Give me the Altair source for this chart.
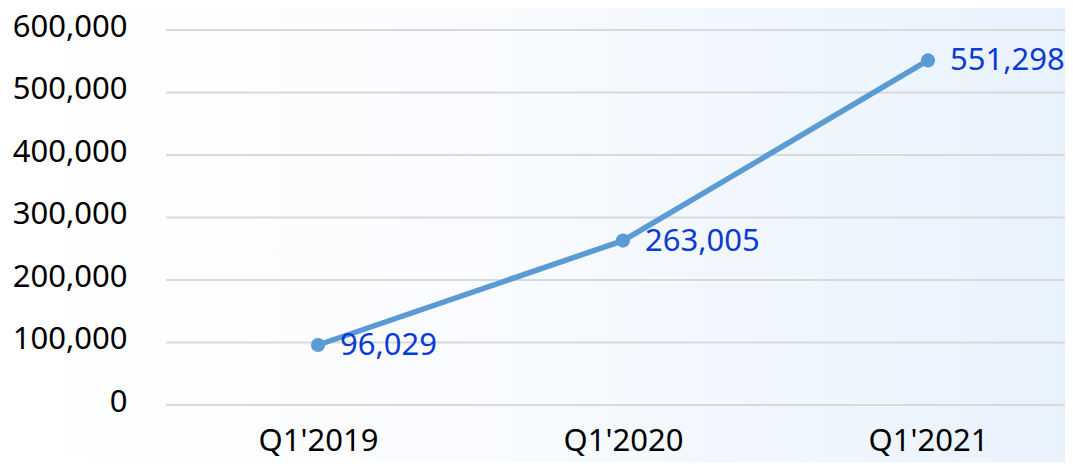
import altair as alt
import pandas as pd

quarters = ["Q1'2019", "Q1'2020", "Q1'2021"]
values = [96029, 263005, 551298]
y_ticks = [0, 100000, 200000, 300000, 400000, 500000, 600000]

df = pd.DataFrame({"quarter": quarters, "value": values})
grid_df = pd.DataFrame({"value": y_ticks})

FONT = "Noto Sans"
W, H = 899, 375

yaxis = alt.Axis(title=None, domain=False, ticks=False, values=y_ticks,
                 format=",.0f", labelFontSize=31, labelFont=FONT,
                 labelColor="#000000", labelPadding=39, labelOffset=-3,
                 grid=False, zindex=1)
yscale = alt.Scale(domain=[0, 600000], nice=False)

bg = alt.Chart(pd.DataFrame({"a": [0]})).mark_rect(
    fill=alt.Gradient(
        gradient="linear",
        stops=[alt.GradientStop(color="#ffffff", offset=0),
               alt.GradientStop(color="#f9fbfe", offset=0.45),
               alt.GradientStop(color="#e8f2fd", offset=1)],
        x1=0, x2=1, y1=0, y2=0,
    )
).encode(
    x=alt.value(-170), x2=alt.value(W + 10),
    y=alt.value(-40), y2=alt.value(H + 80),
)

grid_layer = alt.Chart(grid_df).mark_rule(color="#d9d9d9", strokeWidth=2).encode(
    y=alt.Y("value:Q", scale=yscale, axis=yaxis),
    x=alt.value(0), x2=alt.value(W + 10),
)

xenc = alt.X("quarter:N", sort=quarters,
             scale=alt.Scale(type="point", range=[152, 762], padding=0),
             axis=alt.Axis(title=None, domain=False, ticks=False, labelAngle=0,
                           labelFontSize=31, labelFont=FONT, labelColor="#000000",
                           labelPadding=21, grid=False, zindex=1))

base = alt.Chart(df).encode(x=xenc, y=alt.Y("value:Q", scale=yscale, axis=yaxis))

line = base.mark_line(color="#5b9bd5", strokeWidth=5.5)
pts = base.mark_point(filled=True, color="#5b9bd5", size=200, opacity=1)
labels = base.mark_text(align="left", baseline="middle", dx=22, dy=1, fontSize=31,
                        font=FONT, color="#0a3bd3").encode(
    text=alt.Text("value:Q", format=",")
)

chart = alt.layer(bg, grid_layer, line, pts, labels).properties(
    width=W, height=H,
    autosize=alt.AutoSizeParams(type="none"),
    padding={"left": 158, "top": 22, "right": 0, "bottom": 57},
).configure_view(stroke=None).configure(background="#ffffff")

chart.save("out.html", embed_options={"renderer": "svg", "actions": False})
